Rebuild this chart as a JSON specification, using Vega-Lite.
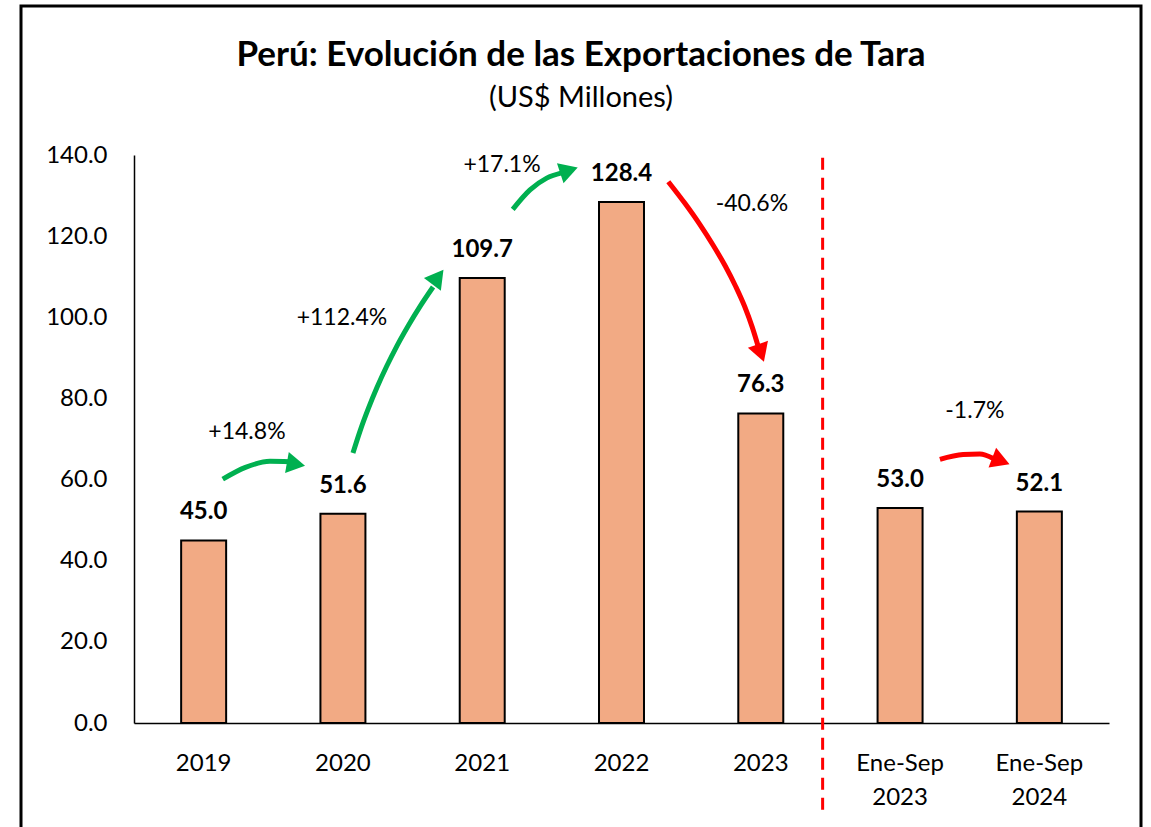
{
  "$schema": "https://vega.github.io/schema/vega-lite/v6.json",
  "width": 1120,
  "height": 830,
  "autosize": {"type": "none"},
  "padding": {"left": 21, "top": 6, "right": 10, "bottom": -9},
  "title": {
    "text": "Perú: Evolución de las Exportaciones de Tara",
    "subtitle": "(US$ Millones)",
    "anchor": "middle",
    "frame": "group",
    "font": "Lato",
    "fontSize": 35,
    "fontWeight": "bold",
    "color": "black",
    "subtitleFont": "Lato",
    "subtitleFontSize": 29,
    "subtitleColor": "black",
    "subtitlePadding": 11,
    "dy": 111
  },
  "datasets": {
    "barras": [
      {"periodo": "2019", "valor": 45.0},
      {"periodo": "2020", "valor": 51.6},
      {"periodo": "2021", "valor": 109.7},
      {"periodo": "2022", "valor": 128.4},
      {"periodo": "2023", "valor": 76.3},
      {"periodo": "Ene-Sep 2023", "valor": 53.0},
      {"periodo": "Ene-Sep 2024", "valor": 52.1}
    ],
    "flechas": [
      {"flecha": 1, "tipo": "sube", "orden": 1, "x": 0.637, "y": 60.1},
      {"flecha": 1, "tipo": "sube", "orden": 2, "x": 0.8, "y": 63.0},
      {"flecha": 1, "tipo": "sube", "orden": 3, "x": 0.976, "y": 64.5},
      {"flecha": 1, "tipo": "sube", "orden": 4, "x": 1.12, "y": 64.4},
      {"flecha": 2, "tipo": "sube", "orden": 1, "x": 1.572, "y": 66.55},
      {"flecha": 2, "tipo": "sube", "orden": 2, "x": 1.624, "y": 72.07},
      {"flecha": 2, "tipo": "sube", "orden": 3, "x": 1.682, "y": 77.47},
      {"flecha": 2, "tipo": "sube", "orden": 4, "x": 1.745, "y": 82.74},
      {"flecha": 2, "tipo": "sube", "orden": 5, "x": 1.814, "y": 87.92},
      {"flecha": 2, "tipo": "sube", "orden": 6, "x": 1.888, "y": 92.97},
      {"flecha": 2, "tipo": "sube", "orden": 7, "x": 1.969, "y": 97.93},
      {"flecha": 2, "tipo": "sube", "orden": 8, "x": 2.055, "y": 102.76},
      {"flecha": 2, "tipo": "sube", "orden": 9, "x": 2.147, "y": 107.47},
      {"flecha": 3, "tipo": "sube", "orden": 1, "x": 2.719, "y": 126.6},
      {"flecha": 3, "tipo": "sube", "orden": 2, "x": 2.843, "y": 131.4},
      {"flecha": 3, "tipo": "sube", "orden": 3, "x": 2.963, "y": 134.3},
      {"flecha": 3, "tipo": "sube", "orden": 4, "x": 3.07, "y": 135.6},
      {"flecha": 4, "tipo": "baja", "orden": 1, "x": 3.836, "y": 133.42},
      {"flecha": 4, "tipo": "baja", "orden": 2, "x": 3.954, "y": 128.15},
      {"flecha": 4, "tipo": "baja", "orden": 3, "x": 4.062, "y": 122.9},
      {"flecha": 4, "tipo": "baja", "orden": 4, "x": 4.158, "y": 117.75},
      {"flecha": 4, "tipo": "baja", "orden": 5, "x": 4.245, "y": 112.64},
      {"flecha": 4, "tipo": "baja", "orden": 6, "x": 4.32, "y": 107.59},
      {"flecha": 4, "tipo": "baja", "orden": 7, "x": 4.385, "y": 102.59},
      {"flecha": 4, "tipo": "baja", "orden": 8, "x": 4.438, "y": 97.63},
      {"flecha": 4, "tipo": "baja", "orden": 9, "x": 4.482, "y": 92.75},
      {"flecha": 5, "tipo": "baja", "orden": 1, "x": 5.786, "y": 65.0},
      {"flecha": 5, "tipo": "baja", "orden": 2, "x": 5.953, "y": 66.2},
      {"flecha": 5, "tipo": "baja", "orden": 3, "x": 6.073, "y": 66.3},
      {"flecha": 5, "tipo": "baja", "orden": 4, "x": 6.169, "y": 65.2}
    ],
    "puntas": [
      {"flecha": 1, "tipo": "sube", "x": 1.163, "y": 63.8, "angulo": 100},
      {"flecha": 2, "tipo": "sube", "x": 2.182, "y": 109.9, "angulo": 37},
      {"flecha": 3, "tipo": "sube", "x": 3.123, "y": 136.2, "angulo": 72},
      {"flecha": 4, "tipo": "baja", "x": 4.501, "y": 91.2, "angulo": 161},
      {"flecha": 5, "tipo": "baja", "x": 6.224, "y": 64.6, "angulo": 111}
    ],
    "variaciones": [
      {"texto": "+14.8%", "x": 0.811, "y": 71.7},
      {"texto": "+112.4%", "x": 1.493, "y": 99.8},
      {"texto": "+17.1%", "x": 2.642, "y": 137.5},
      {"texto": "-40.6%", "x": 4.436, "y": 127.9},
      {"texto": "-1.7%", "x": 6.037, "y": 76.9}
    ],
    "separador": [
      {"x": 4.944, "y": 139.3, "y2": -21.4}
    ]
  },
  "layer": [
    {
      "data": {"name": "barras"},
      "encoding": {
        "x": {
          "field": "periodo",
          "type": "nominal",
          "sort": null,
          "scale": {"range": [113, 1088], "paddingInner": 0.677, "paddingOuter": 0.3385},
          "axis": {
            "orient": "bottom",
            "offset": -113,
            "title": null,
            "labelAngle": 0,
            "labelExpr": "split(datum.label, ' ')",
            "labelOverlap": false,
            "labelBound": false,
            "ticks": false,
            "tickSize": 0,
            "domainColor": "black",
            "domainWidth": 1.5,
            "labelFont": "Lato",
            "labelFontSize": 24,
            "labelColor": "black",
            "labelPadding": 28,
            "labelLineHeight": 34
          }
        },
        "y": {
          "field": "valor",
          "type": "quantitative",
          "scale": {"domain": [0, 140], "range": [717, 149], "nice": false},
          "axis": {
            "offset": -113,
            "title": null,
            "values": [0, 20, 40, 60, 80, 100, 120, 140],
            "format": ".1f",
            "grid": false,
            "ticks": false,
            "tickSize": 0,
            "domainColor": "black",
            "domainWidth": 1.5,
            "labelFont": "Lato",
            "labelFontSize": 24,
            "labelColor": "black",
            "labelPadding": 27
          }
        }
      },
      "layer": [
        {"mark": {"type": "bar", "fill": "#F2AA84", "stroke": "black", "strokeWidth": 2}},
        {
          "mark": {"type": "text", "font": "Lato", "fontSize": 24, "fontWeight": "bold", "color": "black", "baseline": "alphabetic", "dy": -21},
          "encoding": {"text": {"field": "valor", "type": "quantitative", "format": ".1f"}}
        }
      ]
    },
    {
      "layer": [
        {
          "data": {"name": "flechas"},
          "mark": {"type": "line", "interpolate": "monotone", "strokeWidth": 5, "strokeCap": "butt"},
          "encoding": {
            "x": {"field": "x", "type": "quantitative", "scale": {"domain": [0, 7], "range": [113, 1088], "nice": false, "zero": false}, "axis": null},
            "y": {"field": "y", "type": "quantitative", "scale": {"domain": [0, 140], "range": [717, 149], "nice": false}},
            "detail": {"field": "flecha", "type": "nominal"},
            "order": {"field": "orden", "type": "quantitative"},
            "color": {"field": "tipo", "type": "nominal", "scale": {"domain": ["sube", "baja"], "range": ["#00B050", "#FF0000"]}, "legend": null}
          }
        },
        {
          "data": {"name": "puntas"},
          "mark": {"type": "point", "shape": "triangle-up", "filled": true, "opacity": 1, "size": 450, "strokeWidth": 0},
          "encoding": {
            "x": {"field": "x", "type": "quantitative", "scale": {"domain": [0, 7], "range": [113, 1088], "nice": false, "zero": false}, "axis": null},
            "y": {"field": "y", "type": "quantitative", "scale": {"domain": [0, 140], "range": [717, 149], "nice": false}},
            "angle": {"field": "angulo", "type": "quantitative", "scale": null},
            "color": {"field": "tipo", "type": "nominal", "scale": {"domain": ["sube", "baja"], "range": ["#00B050", "#FF0000"]}, "legend": null}
          }
        },
        {
          "data": {"name": "variaciones"},
          "mark": {"type": "text", "font": "Lato", "fontSize": 23, "color": "black", "baseline": "middle", "align": "center"},
          "encoding": {
            "x": {"field": "x", "type": "quantitative", "scale": {"domain": [0, 7], "range": [113, 1088], "nice": false, "zero": false}, "axis": null},
            "y": {"field": "y", "type": "quantitative", "scale": {"domain": [0, 140], "range": [717, 149], "nice": false}},
            "text": {"field": "texto", "type": "nominal"}
          }
        },
        {
          "data": {"name": "separador"},
          "mark": {"type": "rule", "color": "#FF0000", "strokeWidth": 3, "strokeDash": [12, 8]},
          "encoding": {
            "x": {"field": "x", "type": "quantitative", "scale": {"domain": [0, 7], "range": [113, 1088], "nice": false, "zero": false}, "axis": null},
            "y": {"field": "y", "type": "quantitative", "scale": {"domain": [0, 140], "range": [717, 149], "nice": false}},
            "y2": {"field": "y2"}
          }
        }
      ]
    }
  ],
  "resolve": {"scale": {"x": "independent"}, "axis": {"x": "independent"}},
  "config": {
    "font": "Lato",
    "view": {"stroke": "black", "strokeWidth": 3, "fill": "white"},
    "background": "white"
  }
}
